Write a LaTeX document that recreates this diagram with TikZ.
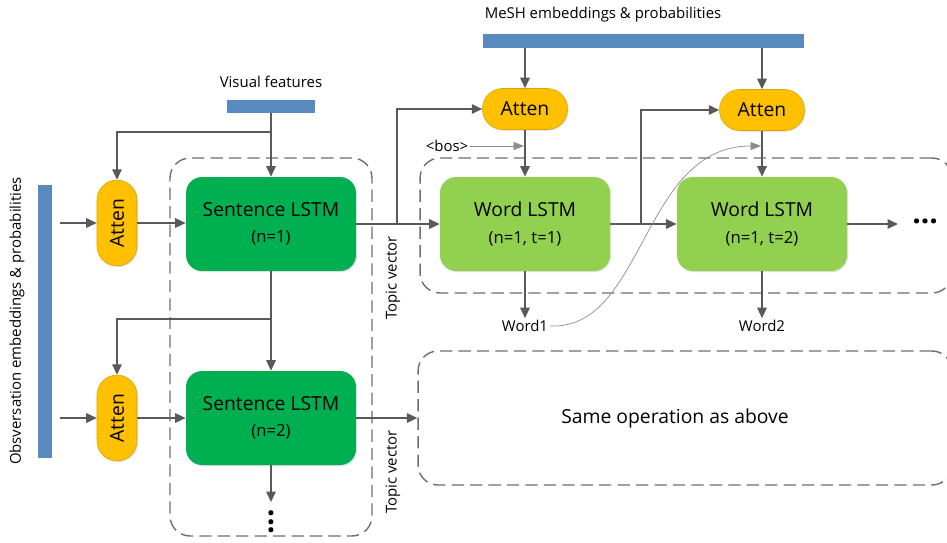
\documentclass[tikz,border=0pt]{standalone}
\usepackage{fontspec}
\setmainfont{Open Sans}
\usepackage{graphicx}
\usetikzlibrary{arrows.meta,positioning,calc,shadows}
\definecolor{attn}{RGB}{255,192,0}
\definecolor{sentg}{RGB}{0,176,80}
\definecolor{wordg}{RGB}{146,208,80}
\definecolor{featb}{RGB}{88,138,192}
\definecolor{wire}{RGB}{89,89,89}
\definecolor{grpline}{RGB}{110,110,110}
\newcommand{\lstmsub}[1]{{\fontsize{9.5}{11}\selectfont #1}}
\tikzset{
  softshadow/.style={drop shadow={shadow xshift=0.6pt, shadow yshift=-0.6pt, opacity=0.25, fill=black!50}},
  % LSTM blocks
  sent/.style={fill=sentg, rounded corners=0.32cm, softshadow, align=center,
    minimum width=3.4cm, minimum height=1.88cm, font=\fontsize{11}{15}\selectfont},
  word/.style={sent, fill=wordg},
  % attention
  hatt/.style={draw=attn!85!black, line width=0.3pt, fill=attn, rounded corners=0.4cm, softshadow,
    minimum width=1.7cm, minimum height=0.82cm, inner sep=0pt, font=\fontsize{11}{13}\selectfont},
  vatt/.style={hatt, minimum width=0.8cm, minimum height=1.72cm},
  % inputs
  featbar/.style={fill=featb, inner sep=0pt},
  lbl/.style={font=\fontsize{8.5}{10}\selectfont, inner sep=1pt},
  grp/.style={draw=grpline, line width=0.8pt, dash pattern=on 7pt off 3.5pt, rounded corners=0.4cm},
  flow/.style={draw=wire, line width=0.9pt, -{Triangle[length=2.1mm, width=1.9mm]}},
  thinflow/.style={draw=black!45, line width=0.4pt, -{Triangle[length=2.1mm, width=1.6mm]}}
}
\begin{document}
\begin{tikzpicture}[x=0.02cm, y=-0.02cm]
  \useasboundingbox (0,0) rectangle (947,542);
  % dashed groups
  \node[grp, minimum width=4.04cm, minimum height=7.56cm] (sgrp) at (271,347) {};
  \node[grp, minimum width=10.64cm, minimum height=2.7cm] (wgrp) at (686,225.5) {};
  \node[grp, minimum width=10.68cm, minimum height=2.68cm, font=\fontsize{11}{13}\selectfont] (same) at (685,418) {Same operation as above\hspace*{0.4cm}};
  % input bars
  \node[featbar, minimum width=0.28cm, minimum height=5.46cm] (obs) at (45,321.5) {};
  \node[featbar, minimum width=1.76cm, minimum height=0.26cm] (vis) at (271,106.5) {};
  \node[featbar, minimum width=6.44cm, minimum height=0.28cm] (mesh) at (643.5,41) {};
  \node[lbl, rotate=90] (obslbl) at (17,321) {Obsversation embeddings \& probabilities};
  \node[lbl] (vislbl) at (271,82) {Visual features};
  \node[lbl] (meshlbl) at (603,15) {MeSH embeddings \& probabilities};
  % sentence level
  \node[vatt] (a1) at (117,223) {\rotatebox{90}{Atten}};
  \node[vatt] (a2) at (117,418) {\rotatebox{90}{Atten}};
  \node[sent] (s1) at (271,224) {Sentence LSTM\\\lstmsub{(n=1)}};
  \node[sent] (s2) at (271,418) {Sentence LSTM\\\lstmsub{(n=2)}};
  \node[lbl, rotate=90] (tv1) at (393,278) {Topic vector};
  \node[lbl, rotate=90] (tv2) at (393,472) {Topic vector};
  \node (sdots) at (271,522) {\rotatebox{90}{\fontsize{17}{17}\selectfont\textbf{...}}};
  % word level
  \node[hatt] (a3) at (525,109) {Atten};
  \node[hatt] (a4) at (762,110) {Atten};
  \node[word] (w1) at (525,224) {Word LSTM\\\lstmsub{(n=1, t=1)}};
  \node[word] (w2) at (762,224) {Word LSTM\\\lstmsub{(n=1, t=2)}};
  \node[lbl] (bos) at (447,146) {<bos>};
  \node[lbl] (wd1) at (525,326) {Word1};
  \node[lbl] (wd2) at (762,326) {Word2};
  \node[anchor=west, inner sep=0pt] (wdots) at (912,221) {\fontsize{17}{17}\selectfont\textbf{...}};
  % branch points
  \coordinate (vbr) at (271,132);
  \coordinate (sbr) at (271,319);
  \coordinate (tbr) at (397,224);
  \coordinate (wbr) at (641,224);
  \coordinate (sdown) at (271,502);
  \coordinate (wright) at (898,224);
  \coordinate (bosin) at (524,146);
  \coordinate (bosin2) at (761,146);

  \draw[flow] ($(obs.east |- a1.west)+(8,0)$) -- (a1.west);
  \draw[flow] ($(obs.east |- a2.west)+(8,0)$) -- (a2.west);
  \draw[flow] (a1.east) -- (a1.east -| s1.west);
  \draw[flow] (a2.east) -- (a2.east -| s2.west);
  \draw[flow] (vis.south) -- (s1.north);
  \draw[flow] (vbr) -| (a1.north);
  \draw[flow] (s1.south) -- (s2.north);
  \draw[flow] (sbr) -| (a2.north);
  \draw[flow] (s2.south) -- (sdown);
  \draw[flow] (s1.east) -- (w1.west);
  \draw[flow] (s2.east) -- (s2.east -| same.west);
  \draw[flow] (tbr) |- (a3.west);
  \draw[flow] (mesh.south -| a3) -- (a3.north);
  \draw[flow] (mesh.south -| a4) -- (a4.north);
  \draw[flow] (a3.south) -- (w1.north);
  \draw[flow] (a4.south) -- (w2.north);
  \draw[flow] (w1.east) -- (w2.west);
  \draw[flow] (wbr) |- (a4.west);
  \draw[flow] (w2.east) -- (wright);
  \draw[flow] (w1.south) -- (wd1.north);
  \draw[flow] (w2.south) -- (wd2.north);
  \draw[thinflow] (bos.east) -- (bosin);
  \draw[thinflow] (wd1.east) .. controls +(95,4) and +(-120,0) .. (bosin2);
\end{tikzpicture}
\end{document}
